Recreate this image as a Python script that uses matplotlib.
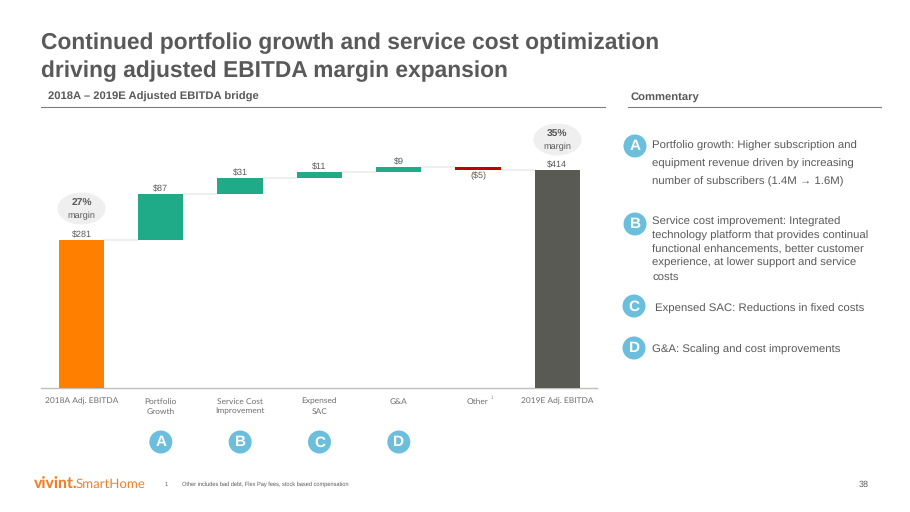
import matplotlib
matplotlib.use("Agg")
import matplotlib.pyplot as plt
from matplotlib.patches import Circle, Ellipse

plt.rcParams["text.hinting"] = "no_hinting"
plt.rcParams["text.hinting_factor"] = 8

categories = ["2018A Adj. EBITDA", "Portfolio\nGrowth", "Service Cost\nImprovement", "Expensed\nSAC", "G&A", "Other", "2019E Adj. EBITDA"]
bottoms = [0, 281, 368, 399, 410, 414, 0]
heights = [281, 87, 31, 11, 9, 5, 414]
bar_colors = ["#FF8000", "#1FAB87", "#1FAB87", "#1FAB87", "#1FAB87", "#C00000", "#5A5A55"]
value_labels = ["$281", "$87", "$31", "$11", "$9", "($5)", "$414"]
connector_levels = [281, 368, 399, 410, 419, 414]
badge_positions = [1, 2, 3, 4]
badge_letters = ["A", "B", "C", "D"]
margin_labels = [(0, 27), (6, 35)]

W, H = 910, 512
SANS = "Liberation Sans"
GRAY = "#595959"
BLUE = "#6CBFDC"

fig = plt.figure(figsize=(W / 100, H / 100), dpi=100, facecolor="white")

# chart axes: baseline at y=388 px
base_px = 388.2
px_per = 0.5275
top_px = 110
ax = fig.add_axes([41 / W, 1 - base_px / H, (597 - 41) / W, (base_px - top_px) / H])
ax.set_xlim(-0.51, 6.5)
ax.set_ylim(0, (base_px - top_px) / px_per)
ax.patch.set_alpha(0)
for s in ["top", "left", "right"]:
    ax.spines[s].set_visible(False)
ax.spines["bottom"].set_color("#BFBFBF")
ax.spines["bottom"].set_linewidth(1.0)
ax.set_yticks([])
xs = list(range(len(categories)))
ax.set_xticks(xs, categories, fontsize=6.0, color="#6E6E6E", family="Lato", linespacing=1.5)
ax.tick_params(axis="x", length=0, pad=7.0)

bar_w = 0.57
ax.bar(xs, heights, bottom=bottoms, width=bar_w, color=bar_colors, linewidth=0, zorder=3)
for i, lvl in enumerate(connector_levels):
    ax.plot([i + bar_w / 2, i + 1 - bar_w / 2], [lvl, lvl], color="#EBEBEB", lw=1.2, zorder=2)
for i, lab in enumerate(value_labels):
    if i == 5:
        ax.text(i, bottoms[i] - 3, lab, ha="center", va="top", fontsize=6.5, color=GRAY, family=SANS)
    else:
        ax.text(i, bottoms[i] + heights[i] + 1.5, lab, ha="center", va="bottom", fontsize=6.5, color=GRAY, family=SANS)

# slide overlay in pixel coordinates
ov = fig.add_axes([0, 0, 1, 1])
ov.set_xlim(0, W)
ov.set_ylim(H, 0)
ov.axis("off")
ov.patch.set_alpha(0)

ov.text(41, 43, "Continued portfolio growth and service cost optimization", fontsize=16.35, fontweight="bold", color="#595959", family=SANS, va="center")
ov.text(41, 71, "driving adjusted EBITDA margin expansion", fontsize=16.35, fontweight="bold", color="#595959", family=SANS, va="center")
ov.text(48, 97, "2018A – 2019E Adjusted EBITDA bridge", fontsize=8.1, fontweight="bold", color="#595959", family=SANS, va="center")
ov.text(631, 97, "Commentary", fontsize=8.1, fontweight="bold", color="#595959", family=SANS, va="center")
ov.plot([41, 605], [107, 107], color="#7F7F7F", lw=0.8)
ov.plot([628, 881], [107, 107], color="#7F7F7F", lw=0.8)

# margin bubbles
for idx, pct in margin_labels:
    cx = 81.5 + idx * 79.33
    cy = 208.5 if idx == 0 else 139.5
    ov.add_patch(Ellipse((cx, cy), 48, 32, color="#EFEFEF", lw=0, zorder=1))
    ov.text(cx, cy - 4.8, f"{pct}%", ha="center", va="center", fontsize=7.4, fontweight="bold", color=GRAY, family=SANS, zorder=2)
    ov.text(cx, cy + 7.5, "margin", ha="center", va="center", fontsize=6.6, color=GRAY, family=SANS, zorder=2)

# badges under the chart
for pos, letter in zip(badge_positions, badge_letters):
    cx = 81.5 + pos * 79.33
    ov.add_patch(Circle((cx, 442), 11.5, color=BLUE, lw=0))
    ov.text(cx, 442.5, letter, ha="center", va="center", fontsize=11, fontweight="bold", color="white", family=SANS)

# commentary
comm = [
    (635, 146, "A", 652.5, [(146, "Portfolio growth: Higher subscription and"), (164, "equipment revenue driven by increasing"), (182, "number of subscribers (1.4M \u2192 1.6M)")]),
    (635, 224, "B", 652.5, [(222, "Service cost improvement: Integrated"), (235.5, "technology platform that provides continual"), (249.5, "functional enhancements, better customer"), (263, "experience, at lower support and service"), (277, "costs")]),
    (634, 306, "C", 655, [(309, "Expensed SAC: Reductions in fixed costs")]),
    (634, 348, "D", 652.5, [(349.5, "G&A: Scaling and cost improvements")]),
]
for cx, cy, letter, tx, lines in comm:
    ov.add_patch(Circle((cx, cy), 11.5, color=BLUE, lw=0))
    ov.text(cx, cy + 0.5, letter, ha="center", va="center", fontsize=11, fontweight="bold", color="white", family=SANS)
    for y, s in lines:
        ov.text(tx, y, s, va="center", fontsize=8.2, color=GRAY, family=[SANS, "DejaVu Sans"])

# footer
ov.text(34, 484, "vivint.", fontsize=11.3, fontweight="black", color="#F0802A", family="Lato", va="center")
ov.text(76, 484.5, "SmartHome", fontsize=9.5, color="#F0802A", family="Lato", va="center")
ov.text(165, 484, "1", fontsize=4, color=GRAY, family=SANS, va="center")
ov.text(182, 484, "Other includes bad debt, Flex Pay fees, stock based compensation", fontsize=4.1, color=GRAY, family=SANS, va="center")
ov.text(869, 484.5, "38", fontsize=6.5, color=GRAY, family=SANS, va="center", ha="right")
ov.text(491, 398, "1", fontsize=3.5, color="#888888", family=SANS, va="center")

fig.savefig("out.png", dpi=100, facecolor="white")
